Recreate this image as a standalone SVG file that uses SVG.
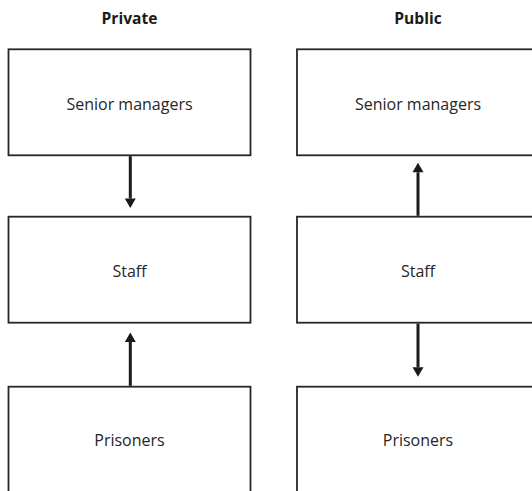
<svg xmlns="http://www.w3.org/2000/svg" width="532" height="491" viewBox="0 0 532 491">
  <style>
    .box { fill: #ffffff; stroke: #262626; stroke-width: 1.8; }
    .label { font-family: "Open Sans", "Liberation Sans", sans-serif; font-size: 16px; fill: #262626; text-anchor: middle; }
    .title { font-family: "Open Sans", "Liberation Sans", sans-serif; font-size: 15.6px; font-weight: bold; fill: #1a1a1a; text-anchor: middle; }
    .link { stroke: #1a1a1a; stroke-width: 3; fill: none; marker-end: url(#head); }
  </style>
  <defs>
    <marker id="head" markerUnits="userSpaceOnUse" markerWidth="10" markerHeight="11" refX="0" refY="5.5" orient="auto" overflow="visible">
      <path d="M0,0 L9.5,5.5 L0,11 z" fill="#1a1a1a"/>
    </marker>
  </defs>
  <rect width="532" height="491" fill="#ffffff"/>

  <!-- column headings -->
  <g id="heading-private"><text class="title" x="129.5" y="24">Private</text></g>
  <g id="heading-public"><text class="title" x="418" y="24">Public</text></g>

  <!-- private sector column -->
  <g id="private-senior">
    <rect class="box" x="8.5" y="49.3" width="242" height="106"/>
    <text class="label" x="129.5" y="110">Senior managers</text>
  </g>
  <g id="private-staff">
    <rect class="box" x="8.5" y="216.7" width="242" height="106"/>
    <text class="label" x="129.5" y="276.7">Staff</text>
  </g>
  <g id="private-prisoners">
    <rect class="box" x="8.5" y="386.7" width="242" height="110"/>
    <text class="label" x="129.5" y="445.7">Prisoners</text>
  </g>

  <!-- public sector column -->
  <g id="public-senior">
    <rect class="box" x="297" y="49.3" width="242" height="106"/>
    <text class="label" x="418" y="110">Senior managers</text>
  </g>
  <g id="public-staff">
    <rect class="box" x="297" y="216.7" width="242" height="106"/>
    <text class="label" x="418" y="276.7">Staff</text>
  </g>
  <g id="public-prisoners">
    <rect class="box" x="297" y="386.7" width="242" height="110"/>
    <text class="label" x="418" y="445.7">Prisoners</text>
  </g>

  <!-- connectors -->
  <g id="connectors">
    <line class="link" x1="130.3" y1="156.2" x2="130.3" y2="198.5"/>
    <line class="link" x1="130.3" y1="385.8" x2="130.3" y2="342"/>
    <line class="link" x1="418" y1="215.8" x2="418" y2="172.3"/>
    <line class="link" x1="418" y1="323.6" x2="418" y2="367.3"/>
  </g>
</svg>
